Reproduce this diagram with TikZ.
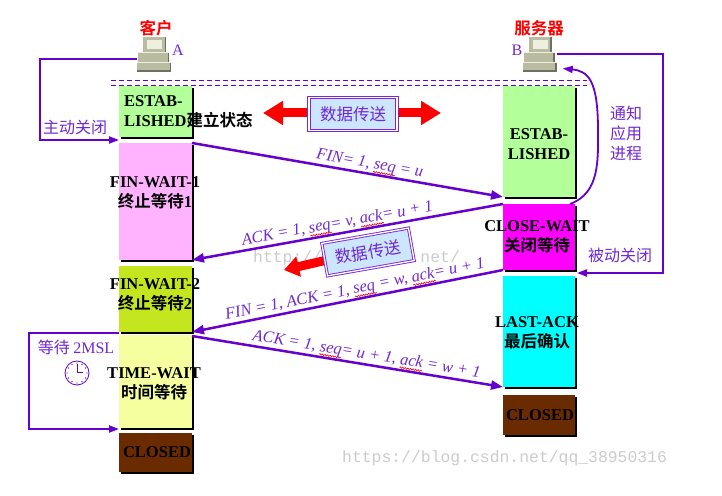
\documentclass[tikz,border=0pt]{standalone}
\usepackage{fontspec}
\setmainfont{Liberation Serif}
\setmonofont{Liberation Mono}
\newfontfamily\cjk{Noto Sans CJK SC}[BoldFont={Noto Sans CJK SC Bold}]
\usetikzlibrary{arrows.meta,shadows,decorations.pathmorphing}
\newlength\rwlen
\newcommand\rw[1]{\settowidth\rwlen{#1}\rlap{\tikz[baseline=0pt]\draw[-, draw=red, line width=0.6pt, decorate, decoration={snake, amplitude=0.7pt, segment length=2.6pt}] (0pt,-3pt) -- (\rwlen,-3pt);}#1}
\definecolor{vio}{RGB}{102,0,204}
\definecolor{vtx}{RGB}{112,40,210}
\definecolor{gEst}{RGB}{179,255,153}
\definecolor{pFw}{RGB}{255,179,255}
\definecolor{yFw}{RGB}{196,230,30}
\definecolor{yTw}{RGB}{245,255,160}
\definecolor{brn}{RGB}{107,43,0}
\definecolor{mag}{RGB}{255,0,255}
\definecolor{cyn}{RGB}{0,255,255}
\definecolor{lblue}{RGB}{204,230,255}
\definecolor{pcg}{RGB}{185,188,160}
\definecolor{pcl}{RGB}{238,238,225}
\definecolor{pcd}{RGB}{110,112,95}
\tikzset{
  stbox/.style={draw=none, inner sep=0pt, outer sep=0pt,
    drop shadow={shadow xshift=2.2pt,shadow yshift=-2.2pt,fill=black,opacity=1}},
  sttext/.style={font=\fontsize{16.5}{20}\selectfont\bfseries, align=center, inner sep=0pt, text=black},
  msg/.style={draw=vio, line width=2.5pt, -{Triangle[length=12pt,width=9pt]}},
  mlab/.style={font=\fontsize{16.5}{18}\selectfont\itshape, text=vtx, sloped, above=0.5pt, inner sep=1pt},
  loopline/.style={draw=vio, line width=2pt, -{Triangle[length=10pt,width=7pt]}},
  plab/.style={font=\cjk\fontsize{16}{20}\selectfont, text=vtx, inner sep=0pt, align=center},
  redlab/.style={font=\cjk\bfseries\fontsize{16.5}{20}\selectfont, text=red, inner sep=0pt},
  databox/.style={fill=lblue, draw=vio!85, double=white, double distance=1.3pt, line width=0.9pt,
    minimum width=88pt, minimum height=33pt, inner sep=0pt, font=\cjk\fontsize{16.5}{18}\selectfont, text=vtx},
  redarrow/.style={draw=red, line width=9pt},
  pcnode/.style={minimum width=34pt, minimum height=35pt, inner sep=0pt, draw=none},
  wmark/.style={font=\ttfamily\fontsize{16.4}{18}\selectfont, text=black!20, inner sep=0pt, anchor=west},
  pics/computer/.style={code={
    \fill[pcg] (-11pt,2.5pt) rectangle (12pt,17.5pt);
    \fill[pcd] (10.5pt,2.5pt) rectangle (12pt,17pt);
    \fill[pcl] (-7pt,5pt) rectangle (8pt,14.5pt);
    \fill[pcg] (-16pt,-7.5pt) rectangle (15pt,2.5pt);
    \fill[pcd] (13.5pt,-7.5pt) rectangle (15pt,2pt);
    \fill[pcl] (-16pt,1.5pt) rectangle (15pt,2.5pt);
    \fill[pcg] (-17pt,-17.5pt) rectangle (17pt,-7.5pt);
    \fill[pcd] (15.5pt,-17.5pt) rectangle (17pt,-8pt);
    \fill[pcd] (-17pt,-17.5pt) rectangle (17pt,-16pt);
    \fill[pcl] (-17pt,-8.5pt) rectangle (17pt,-7.5pt);
  }}
}
\begin{document}
\begin{tikzpicture}[x=1pt,y=1pt]
\useasboundingbox (0,0) rectangle (722,495);
\fill[white] (0,0) rectangle (722,495);

% computers
\node[pcnode] (pcA) at (154,440.5) {};
\pic at (pcA.center) {computer};
\node[pcnode] (pcB) at (539.5,440.5) {};
\pic at (pcB.center) {computer};
\node[redlab] (lA) at (156,467) {客户};
\node[redlab] (lB) at (539,467) {服务器};
\node[font=\fontsize{16}{18}\selectfont, text=vtx, inner sep=0pt] (tA) at (178,445) {A};
\node[font=\fontsize{16}{18}\selectfont, text=vtx, inner sep=0pt] (tB) at (517,445) {B};

% dashed separation
\draw[vio, line width=0.8pt, dash pattern=on 5pt off 3pt] (111,415) -- (587,415);
\draw[vio, line width=0.8pt, dash pattern=on 5pt off 3pt] (111,410) -- (587,410);

% client column
\node[stbox, fill=gEst, minimum width=73pt, minimum height=51pt] (est1) at (155.5,383.5) {};
\node[stbox, fill=pFw, minimum width=73pt, minimum height=117pt] (fw1) at (155.5,293.5) {};
\node[stbox, fill=yFw, minimum width=73pt, minimum height=66pt] (fw2) at (155.5,196) {};
\node[stbox, fill=yTw, minimum width=73pt, minimum height=93pt] (tw) at (155.5,113.5) {};
\node[stbox, fill=brn, minimum width=73pt, minimum height=39pt] (cl1) at (155.5,42.5) {};

% server column
\node[stbox, fill=gEst, minimum width=72pt, minimum height=111pt] (est2) at (539,353.5) {};
\node[stbox, fill=mag, minimum width=72pt, minimum height=66pt] (cw) at (539,258) {};
\node[stbox, fill=cyn, minimum width=72pt, minimum height=111pt] (la) at (539,163.5) {};
\node[stbox, fill=brn, minimum width=72pt, minimum height=40pt] (cl2) at (539,80) {};

% state texts
\node[sttext, align=left, anchor=west] (t1) at (124,383) {ESTAB-\\LISHED{\cjk 建立状态}};
\node[sttext] (t2) at (155,302) {FIN-WAIT-1\\{\cjk 终止等待}1};
\node[sttext] (t3) at (155,200.5) {FIN-WAIT-2\\{\cjk 终止等待}2};
\node[sttext] (t4) at (154,111.5) {TIME-WAIT\\{\cjk 时间等待}};
\node[sttext] (t5) at (157,43) {CLOSED};
\node[sttext] (t6) at (539,351) {ESTAB-\\LISHED};
\node[sttext] (t7) at (537,258.5) {CLOSE-WAIT\\{\cjk 关闭等待}};
\node[sttext] (t8) at (537,162) {LAST-ACK\\{\cjk 最后确认}};
\node[sttext] (t9) at (540,80) {CLOSED};

% data transfer (top)
\coordinate (dl) at (263,382);
\coordinate (dr) at (441,382);
\draw[redarrow, {Triangle[length=20pt,width=23pt]}-{Triangle[length=20pt,width=23pt]}] (dl) -- (dr);
\node[databox] (db1) at (353,381) {数据传送};

% watermark (middle)
\node[wmark] (wm1) at (253,237) {http://blog.csdn.net/};

% data transfer (second)
\coordinate (d2s) at (340,238);
\coordinate (d2t) at (284,225);
\draw[redarrow, -{Triangle[length=15pt,width=20pt]}] (d2s) -- (d2t);
\node[databox, rotate=10] (db2) at (368,243) {数据传送};

% messages
\draw[msg] (fw1.north east) -- (est2.south west)
  node[mlab, pos=0.566] {FIN= 1, \rw{seq} = u};
\draw[msg] (cw.north west) -- (fw1.south east)
  node[mlab, pos=0.527] {ACK = 1, \rw{seq}= v, \rw{ack}= u + 1};
\draw[msg] (cw.south west) -- (fw2.south east)
  node[mlab, pos=0.47] {FIN = 1, ACK = 1, \rw{seq} = w, \rw{ack}= u + 1};
\draw[msg] ([yshift=-1pt]tw.north east) -- (la.south west)
  node[mlab, pos=0.556] {ACK = 1, \rw{seq}= u + 1, \rw{ack} = w + 1};

% loops
\draw[loopline] ([yshift=-5pt]pcA.west) -- ++(-97,0) |- ([yshift=-3pt]est1.south west);
\node[plab] (zd) at (75,368) {主动关闭};
\draw[loopline] (pcB.east) -- ++(106,0) |- ([xshift=2pt,yshift=-3pt]cw.south east);
\node[plab] (bd) at (620,240) {被动关闭};
\draw[loopline] ([yshift=-1.5pt]fw2.south west) -- ++(-90,0) |- ([yshift=-1pt]tw.south west);
\node[plab] (msl) at (76,148) {等待 {\fontspec{Liberation Serif}2MSL}};

% clock
\node[circle, draw=vio, line width=0.8pt, minimum size=24pt, inner sep=0pt] (clk) at (77,122) {};
\foreach \a in {0,30,...,330} \fill[vio] (clk.center) ++(\a:10pt) circle (0.7pt);
\draw[vio, line width=1pt] (clk.center) -- ++(0,9);
\draw[vio, line width=1pt] (clk.center) -- ++(6,0);

% notify application
\draw[loopline, line width=1.8pt] ([xshift=-5pt]cw.north east) .. controls (600,302) and (598,335) .. (598,365)
  .. controls (598,415) and (588,424) .. ([xshift=6pt,yshift=-14pt]pcB.east);
\node[plab, font=\cjk\fontsize{16}{20}\selectfont] (tz) at (626,362) {通知\\应用\\进程};

% bottom watermark
\node[wmark] (wm2) at (342,37) {https://blog.csdn.net/qq\_38950316};
\end{tikzpicture}
\end{document}
